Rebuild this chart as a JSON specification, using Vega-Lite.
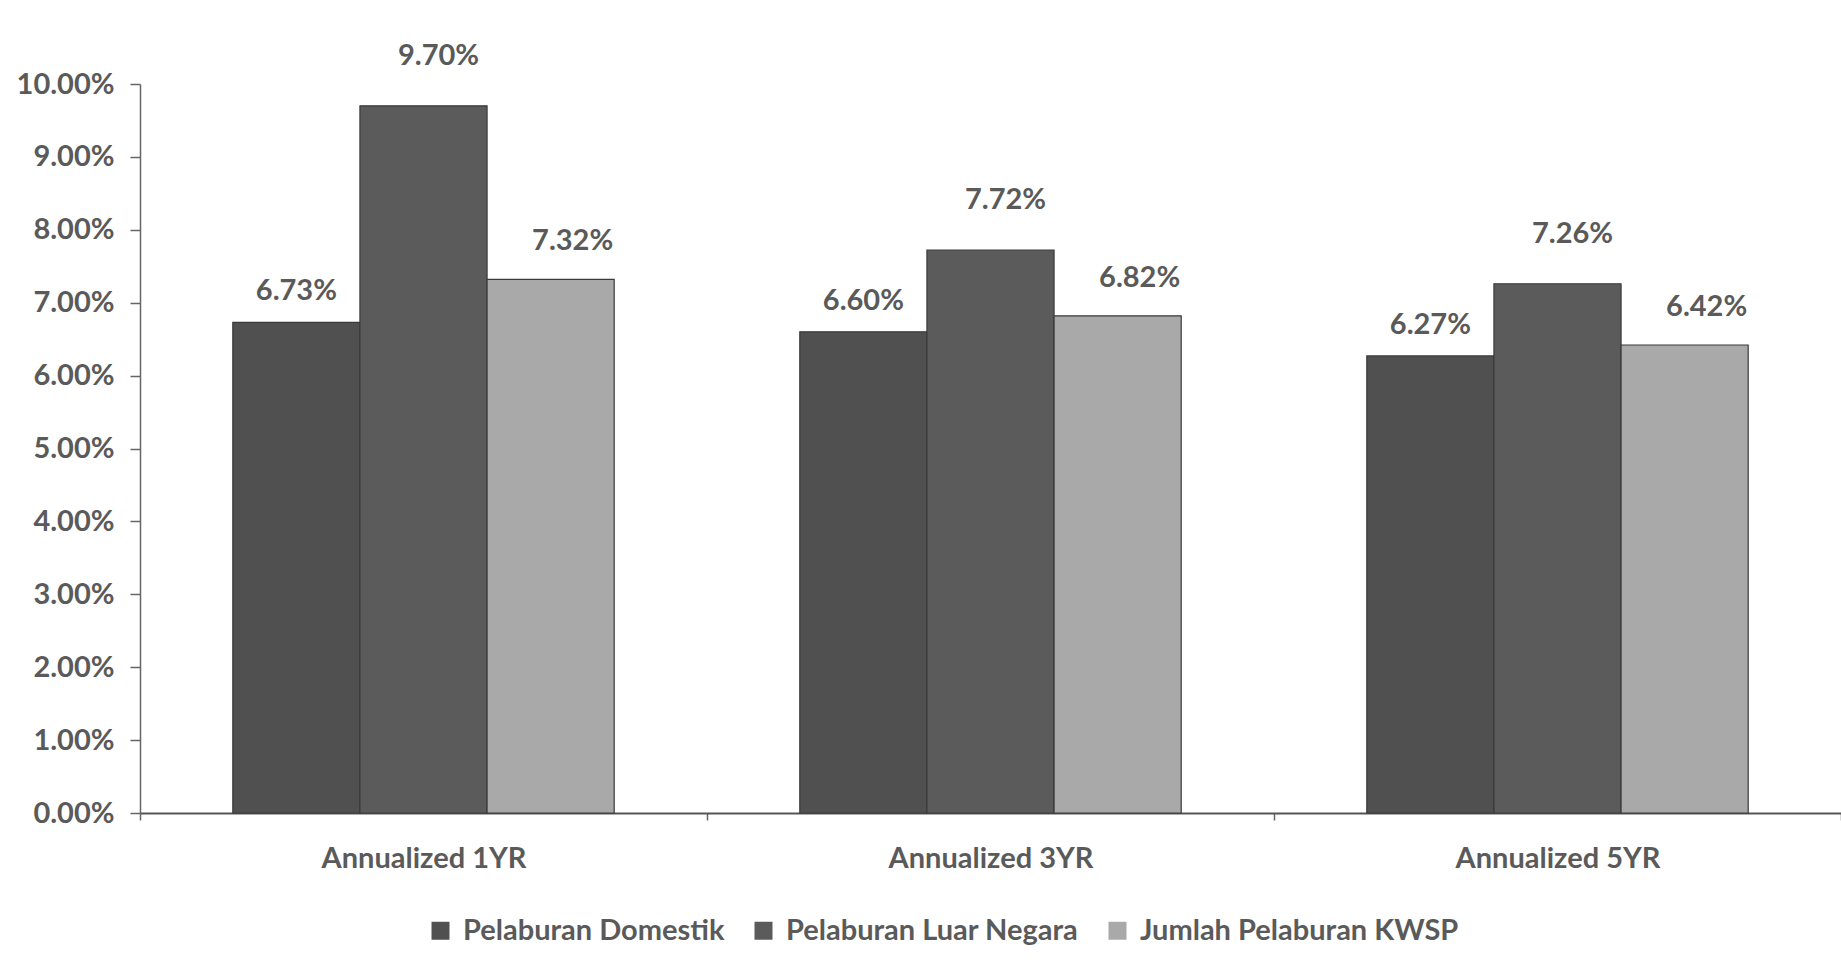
{
  "$schema": "https://vega.github.io/schema/vega-lite/v6.json",
  "width": 1701,
  "height": 729,
  "autosize": "none",
  "padding": {"left": 140, "top": 84, "right": 0, "bottom": 166},
  "background": "white",
  "config": {
    "view": {"stroke": null},
    "font": "Lato",
    "text": {"font": "Lato"}
  },
  "data": {
    "values": [
      {"period": "Annualized 1YR", "series": "Pelaburan Domestik", "value": 0.0673},
      {"period": "Annualized 1YR", "series": "Pelaburan Luar Negara", "value": 0.0970},
      {"period": "Annualized 1YR", "series": "Jumlah Pelaburan KWSP", "value": 0.0732},
      {"period": "Annualized 3YR", "series": "Pelaburan Domestik", "value": 0.0660},
      {"period": "Annualized 3YR", "series": "Pelaburan Luar Negara", "value": 0.0772},
      {"period": "Annualized 3YR", "series": "Jumlah Pelaburan KWSP", "value": 0.0682},
      {"period": "Annualized 5YR", "series": "Pelaburan Domestik", "value": 0.0627},
      {"period": "Annualized 5YR", "series": "Pelaburan Luar Negara", "value": 0.0726},
      {"period": "Annualized 5YR", "series": "Jumlah Pelaburan KWSP", "value": 0.0642}
    ]
  },
  "encoding": {
    "x": {
      "field": "period", "type": "nominal",
      "scale": {"paddingInner": 0, "paddingOuter": 0},
      "axis": {
        "title": null, "labelAngle": 0, "tickBand": "extent", "labelLimit": 0,
        "labelFont": "Lato", "labelFontWeight": "bold", "labelFontSize": 29, "labelColor": "#5a5a5a",
        "labelPadding": 24, "tickSize": 7, "tickColor": "#666666", "tickWidth": 1.5,
        "domainColor": "#555555", "domainWidth": 2
      }
    },
    "xOffset": {
      "field": "series", "type": "nominal",
      "sort": ["Pelaburan Domestik", "Pelaburan Luar Negara", "Jumlah Pelaburan KWSP"],
      "scale": {"paddingInner": 0, "paddingOuter": 0.73}
    },
    "y": {
      "field": "value", "type": "quantitative",
      "scale": {"domain": [0, 0.1], "nice": false},
      "axis": {
        "title": null, "grid": false, "format": ".2%",
        "values": [0, 0.01, 0.02, 0.03, 0.04, 0.05, 0.06, 0.07, 0.08, 0.09, 0.1],
        "labelFont": "Lato", "labelFontWeight": "bold", "labelFontSize": 29, "labelColor": "#5a5a5a",
        "labelPadding": 16, "tickSize": 10, "tickColor": "#666666", "tickWidth": 1.5,
        "domainColor": "#666666", "domainWidth": 1.5
      }
    }
  },
  "layer": [
    {
      "mark": {"type": "bar", "stroke": "#3a3a3a", "strokeWidth": 1.2},
      "encoding": {
        "color": {
          "field": "series", "type": "nominal",
          "scale": {
            "domain": ["Pelaburan Domestik", "Pelaburan Luar Negara", "Jumlah Pelaburan KWSP"],
            "range": ["#505050", "#5b5b5b", "#a9a9a9"]
          },
          "legend": {
            "title": null, "orient": "none", "direction": "horizontal",
            "legendX": 286, "legendY": 832,
            "symbolType": "square", "symbolSize": 324, "symbolStrokeWidth": 0,
            "labelFont": "Lato", "labelFontWeight": "bold", "labelFontSize": 29, "labelColor": "#5a5a5a",
            "labelOffset": 8, "columnPadding": 24, "labelLimit": 500
          }
        }
      }
    },
    {
      "transform": [{"filter": "datum.series == 'Pelaburan Domestik'"}],
      "mark": {"type": "text", "font": "Lato", "fontWeight": "bold", "fontSize": 29, "color": "#5a5a5a", "baseline": "middle", "dy": -31, "dx": 0},
      "encoding": {"text": {"field": "value", "type": "quantitative", "format": ".2%"}}
    },
    {
      "transform": [{"filter": "datum.series == 'Pelaburan Luar Negara'"}],
      "mark": {"type": "text", "font": "Lato", "fontWeight": "bold", "fontSize": 29, "color": "#5a5a5a", "baseline": "middle", "dy": -50, "dx": 15},
      "encoding": {"text": {"field": "value", "type": "quantitative", "format": ".2%"}}
    },
    {
      "transform": [{"filter": "datum.series == 'Jumlah Pelaburan KWSP'"}],
      "mark": {"type": "text", "font": "Lato", "fontWeight": "bold", "fontSize": 29, "color": "#5a5a5a", "baseline": "middle", "dy": -38, "dx": 22},
      "encoding": {"text": {"field": "value", "type": "quantitative", "format": ".2%"}}
    }
  ]
}
